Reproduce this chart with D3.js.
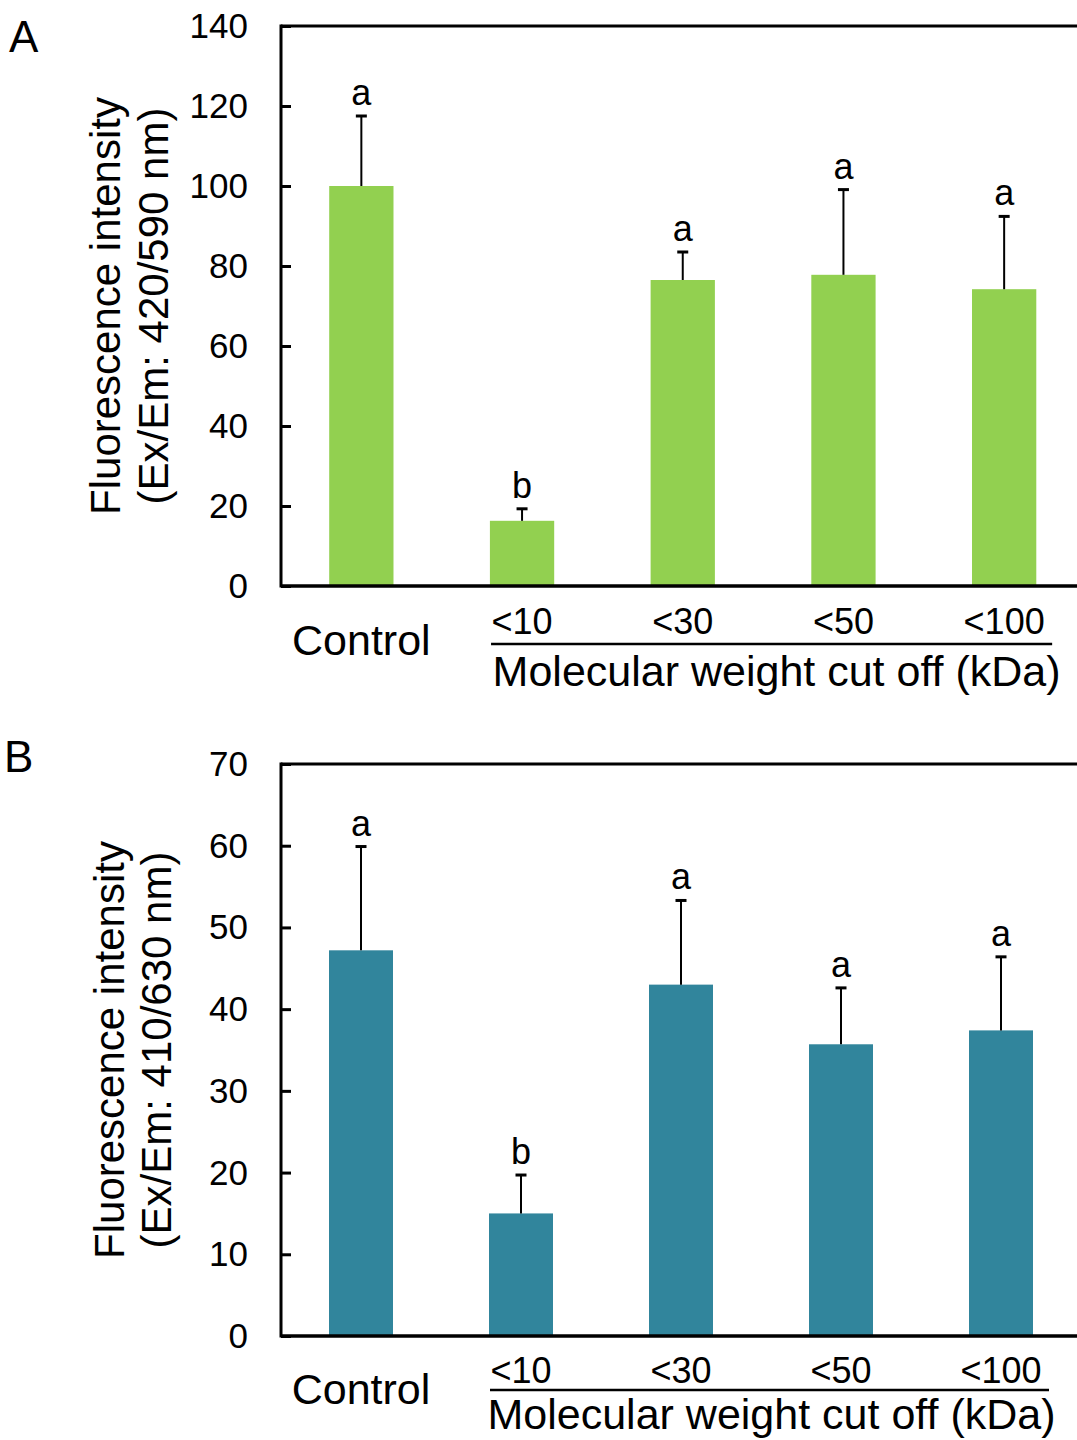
<!DOCTYPE html>
<html>
<head>
<meta charset="utf-8">
<script src="https://cdn.jsdelivr.net/npm/d3@7"></script>
<style>
  body { margin: 0; background: #fff; }
  svg { display: block; font-family: "Liberation Sans", Arial, sans-serif; }
</style>
</head>
<body>
<svg width="1077" height="1440"></svg>
<script>
// categories shared by both panels
var categories = ["Control", "<10", "<30", "<50", "<100"];

// Panel A - Ex/Em 420/590
var meanA = [100, 16.3, 76.5, 77.8, 74.2];
var errA = [17.5, 3.0, 7.0, 21.3, 18.2];
var lettersA = ["a", "b", "a", "a", "a"];
var ticksA = [0, 20, 40, 60, 80, 100, 120, 140];

// Panel B - Ex/Em 410/630
var meanB = [47.2, 15.0, 43.0, 35.7, 37.4];
var errB = [12.7, 4.7, 10.3, 6.9, 9.0];
var lettersB = ["a", "b", "a", "a", "a"];
var ticksB = [0, 10, 20, 30, 40, 50, 60, 70];

var svg = d3.select("svg");

function drawPanel(opt) {
    var g = svg.append("g");

    var x = d3.scaleBand()
        .domain(categories)
        .range([opt.left, opt.right])
        .paddingInner(0.6)
        .paddingOuter(0.3);

    var y = d3.scaleLinear()
        .domain([0, d3.max(opt.ticks)])
        .range([opt.bottom, opt.top]);

    // bars
    g.selectAll("rect.bar")
        .data(opt.mean)
        .enter().append("rect")
        .attr("class", "bar")
        .attr("x", function(d, i) { return x(categories[i]); })
        .attr("width", x.bandwidth())
        .attr("y", function(d) { return y(d); })
        .attr("height", function(d) { return y(0) - y(d); })
        .attr("fill", opt.color);

    // upper error bars only
    var cx = function(i) { return x(categories[i]) + x.bandwidth() / 2; };
    opt.mean.forEach(function(m, i) {
        var top = y(m + opt.err[i]);
        g.append("line")
            .attr("x1", cx(i)).attr("x2", cx(i))
            .attr("y1", y(m)).attr("y2", top)
            .attr("stroke", "#000").attr("stroke-width", 2);
        g.append("line")
            .attr("x1", cx(i) - 5.5).attr("x2", cx(i) + 5.5)
            .attr("y1", top).attr("y2", top)
            .attr("stroke", "#000").attr("stroke-width", 3);
        g.append("text")
            .attr("x", cx(i))
            .attr("y", top - 11)
            .attr("text-anchor", "middle")
            .attr("font-size", 36)
            .text(opt.letters[i]);
    });

    // y axis with inner ticks
    var yAxis = d3.axisRight(y).tickValues(opt.ticks).tickSize(10).tickFormat("");
    var ya = g.append("g")
        .attr("transform", "translate(" + opt.left + ",0)")
        .call(yAxis);
    ya.select(".domain").remove();
    ya.selectAll(".tick line").attr("stroke", "#000").attr("stroke-width", 3);

    g.selectAll("text.ytick")
        .data(opt.ticks)
        .enter().append("text")
        .attr("class", "ytick")
        .attr("x", 248)
        .attr("y", function(d) { return y(d) + 12; })
        .attr("text-anchor", "end")
        .attr("font-size", 35)
        .text(function(d) { return d; });

    // frame: left, top, bottom
    g.append("line")
        .attr("x1", opt.left).attr("x2", opt.left)
        .attr("y1", opt.top - 1.5).attr("y2", opt.bottom + 1.5)
        .attr("stroke", "#000").attr("stroke-width", 3);
    g.append("line")
        .attr("x1", opt.left).attr("x2", opt.right + 5)
        .attr("y1", opt.top).attr("y2", opt.top)
        .attr("stroke", "#000").attr("stroke-width", 3);
    g.append("line")
        .attr("x1", opt.left).attr("x2", opt.right + 5)
        .attr("y1", opt.bottom).attr("y2", opt.bottom)
        .attr("stroke", "#000").attr("stroke-width", 3.5);

    // category labels
    g.append("text")
        .attr("x", cx(0))
        .attr("y", opt.controlY)
        .attr("text-anchor", "middle")
        .attr("font-size", 43)
        .text(categories[0]);
    categories.slice(1).forEach(function(c, j) {
        g.append("text")
            .attr("x", cx(j + 1))
            .attr("y", opt.cutY)
            .attr("text-anchor", "middle")
            .attr("font-size", 36)
            .text(c);
    });

    // bracket line under the cut-off labels
    var ux1 = cx(1) - 31, ux2 = cx(4) + 48;
    g.append("line")
        .attr("x1", ux1).attr("x2", ux2)
        .attr("y1", opt.lineY).attr("y2", opt.lineY)
        .attr("stroke", "#000").attr("stroke-width", 2.5);
    g.append("text")
        .attr("x", (ux1 + ux2) / 2 + opt.titleShift)
        .attr("y", opt.titleY)
        .attr("text-anchor", "middle")
        .attr("font-size", 43)
        .text("Molecular weight cut off (kDa)");

    // y title, two lines
    var midY = (opt.top + opt.bottom) / 2;
    opt.ytitle.forEach(function(t, k) {
        g.append("text")
            .attr("transform", "translate(" + opt.ytitleX[k] + "," + midY + ") rotate(-90)")
            .attr("text-anchor", "middle")
            .attr("font-size", 42)
            .text(t);
    });

    // panel letter
    g.append("text")
        .attr("x", opt.labelX)
        .attr("y", opt.labelY)
        .attr("font-size", 44)
        .text(opt.label);
}

drawPanel({
    label: "A", labelX: 9, labelY: 52,
    mean: meanA, err: errA, letters: lettersA, ticks: ticksA,
    color: "#92d050",
    left: 281, right: 1084.5, top: 26, bottom: 586,
    controlY: 655, cutY: 634, lineY: 644, titleY: 686, titleShift: 5,
    ytitle: ["Fluorescence intensity", "(Ex/Em: 420/590 nm)"],
    ytitleX: [120, 168]
});

drawPanel({
    label: "B", labelX: 4, labelY: 772,
    mean: meanB, err: errB, letters: lettersB, ticks: ticksB,
    color: "#31859c",
    left: 281, right: 1081, top: 764, bottom: 1336,
    controlY: 1404, cutY: 1383, lineY: 1390, titleY: 1429, titleShift: 2,
    ytitle: ["Fluorescence intensity", "(Ex/Em: 410/630 nm)"],
    ytitleX: [124, 171]
});
</script>
</body>
</html>
